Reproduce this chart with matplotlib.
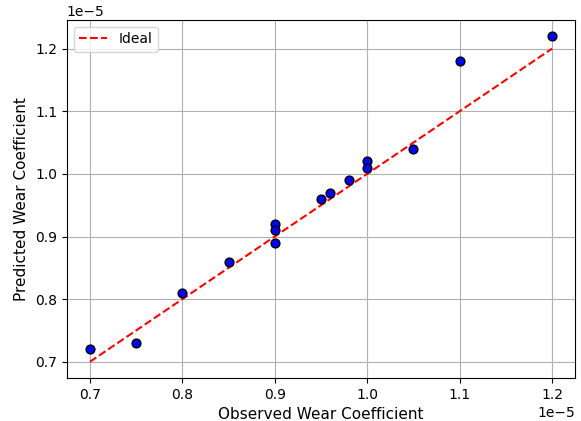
import numpy as np
import matplotlib.pyplot as plt

observed = np.array([0.70, 0.75, 0.80, 0.85, 0.90, 0.90, 0.90, 0.95, 0.96, 0.98,
                     1.00, 1.00, 1.05, 1.10, 1.20]) * 1e-5
predicted = np.array([0.72, 0.73, 0.81, 0.86, 0.92, 0.91, 0.89, 0.96, 0.97, 0.99,
                      1.02, 1.01, 1.04, 1.18, 1.22]) * 1e-5
ideal = [0.7e-5, 1.2e-5]

fig, ax = plt.subplots(figsize=(5.81, 4.21), dpi=100)
fig.subplots_adjust(left=0.115, right=0.99, top=0.953, bottom=0.102)

ax.scatter(observed, predicted, color='blue', edgecolor='black', s=40, zorder=3)
ax.plot(ideal, ideal, 'r--', label='Ideal', zorder=2)
ax.set_xlabel('Observed Wear Coefficient', fontsize=11)
ax.set_ylabel('Predicted Wear Coefficient', fontsize=11)
ax.grid(True)
ax.legend(loc='upper left')

fig.savefig('out.png')
